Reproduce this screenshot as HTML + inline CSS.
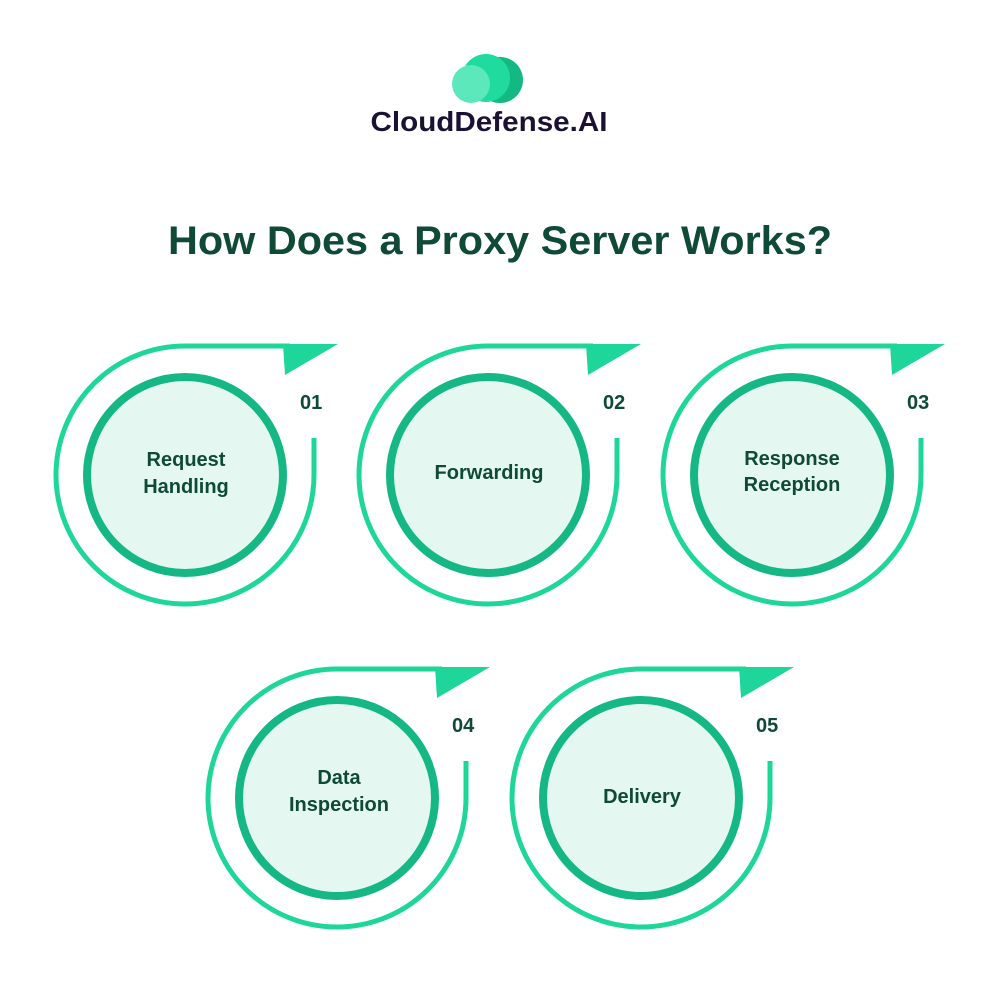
<!DOCTYPE html>
<html><head><meta charset="utf-8"><style>
html,body{margin:0;padding:0;background:#fff;}
svg{display:block;}
text{font-family:"Liberation Sans",sans-serif;font-weight:bold;}
</style></head><body>
<svg width="1000" height="1000" viewBox="0 0 1000 1000" xmlns="http://www.w3.org/2000/svg">
<rect width="1000" height="1000" fill="#fff"/>
<!-- logo -->
<circle cx="500" cy="80" r="23" fill="#12b982"/>
<circle cx="486" cy="78" r="24" fill="#1fdb9e"/>
<circle cx="471" cy="84" r="19" fill="#5ce8bb"/>
<text x="489" y="131" text-anchor="middle" font-size="28" fill="#1a1233" textLength="237" lengthAdjust="spacingAndGlyphs">CloudDefense.AI</text>
<!-- title -->
<text x="500" y="254" text-anchor="middle" font-size="40" fill="#0e4a35" textLength="664" lengthAdjust="spacingAndGlyphs">How Does a Proxy Server Works?</text>

<defs>
<g id="unit">
<path d="M129 -37 L129 0 A129 129 0 1 1 0 -129 L105 -129" fill="none" stroke="#1fd69a" stroke-width="5"/>
<polygon points="98,-131 153,-131 100,-100" fill="#1fd69a"/>
<circle cx="0" cy="0" r="98" fill="#e4f8f1" stroke="#15b884" stroke-width="8"/>
</g>
</defs>

<use href="#unit" x="185" y="475"/>
<use href="#unit" x="488" y="475"/>
<use href="#unit" x="792" y="475"/>
<use href="#unit" x="337" y="798"/>
<use href="#unit" x="641" y="798"/>

<g fill="#0e4a35" font-size="20">
<text x="300" y="409">01</text>
<text x="603" y="409">02</text>
<text x="907" y="409">03</text>
<text x="452" y="732">04</text>
<text x="756" y="732">05</text>
</g>
<g fill="#0e4a35" font-size="20" text-anchor="middle">
<text x="186" y="466">Request</text>
<text x="186" y="493">Handling</text>
<text x="489" y="479">Forwarding</text>
<text x="792" y="465">Response</text>
<text x="792" y="491">Reception</text>
<text x="339" y="784">Data</text>
<text x="339" y="811">Inspection</text>
<text x="642" y="803">Delivery</text>
</g>
</svg>
</body></html>
